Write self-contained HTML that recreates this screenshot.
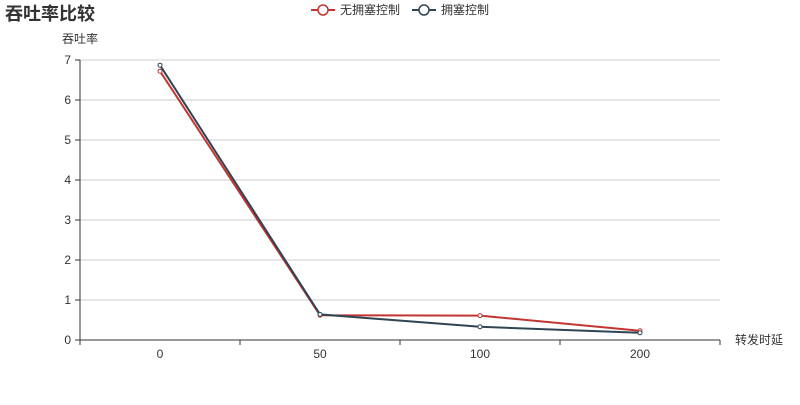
<!DOCTYPE html>
<html><head><meta charset="utf-8"><style>
body{margin:0;background:#fff;font-family:"Liberation Sans","Noto Sans CJK SC",sans-serif}
svg text{font-family:"Liberation Sans","Noto Sans CJK SC",sans-serif}
</style></head><body>
<svg id="c" width="800" height="400">
<text x="5" y="20" font-size="18" font-weight="bold" fill="#333">吞吐率比较</text>
<g>
<line x1="311" y1="10" x2="335" y2="10" stroke="#c23531" stroke-width="2"/>
<circle cx="323" cy="10" r="5" fill="#fff" stroke="#c23531" stroke-width="1.5"/>
<text x="340" y="14" font-size="12" fill="#333">无拥塞控制</text></g>
<g>
<line x1="412" y1="10" x2="436" y2="10" stroke="#2f4554" stroke-width="2"/>
<circle cx="424" cy="10" r="5" fill="#fff" stroke="#2f4554" stroke-width="1.5"/>
<text x="441" y="14" font-size="12" fill="#333">拥塞控制</text></g>
<text x="62" y="43" font-size="12" fill="#333">吞吐率</text>
<text x="735" y="344" font-size="12" fill="#333">转发时延</text>
<g id="grid"></g><g id="series"></g>
</svg>
<script>
const categories=["0","50","100","200"];
const yTicks=[0,1,2,3,4,5,6,7];
const seriesNoCC=[6.72,0.62,0.61,0.23];
const seriesCC=[6.87,0.64,0.33,0.18];
const NS="http://www.w3.org/2000/svg";
const x0=80,x1=720,y0=340,y1=60,yMax=7;
const band=(x1-x0)/categories.length;
const xs=i=>x0+band*(i+0.5);
const ys=v=>y0-(v/yMax)*(y0-y1);
function mk(t,a,p){const e=document.createElementNS(NS,t);for(const k in a)e.setAttribute(k,a[k]);p.appendChild(e);return e;}
const g=document.getElementById('grid');
yTicks.forEach(v=>{
 if(v>0){const l=mk('line',{x1:x0,x2:x1,y1:ys(v),y2:ys(v),stroke:'#ccc'},g);
 
 }
 mk('line',{x1:x0-5,x2:x0,y1:ys(v),y2:ys(v),stroke:'#333'},g);
 const t=mk('text',{x:x0-9,y:ys(v)+4,'text-anchor':'end','font-size':12,fill:'#333'},g);t.textContent=v;
 
 
});
mk('line',{x1:x0,x2:x0,y1:y1,y2:y0,stroke:'#333'},g);
mk('line',{x1:x0,x2:x1,y1:y0,y2:y0,stroke:'#333'},g);
for(let i=0;i<=categories.length;i++)mk('line',{x1:x0+band*i,x2:x0+band*i,y1:y0,y2:y0+5,stroke:'#333'},g);
categories.forEach((c,i)=>{const t=mk('text',{x:xs(i),y:y0+18,'text-anchor':'middle','font-size':12,fill:'#333'},g);t.textContent=c;
 
 });
const s=document.getElementById('series');
[[seriesNoCC,'#c23531','no-congestion-control'],[seriesCC,'#2f4554','congestion-control']].forEach(([d,col,n])=>{
 const p=mk('polyline',{points:d.map((v,i)=>xs(i)+','+ys(v)).join(' '),fill:'none',stroke:col,'stroke-width':2},s);
 
 
 d.forEach((v,i)=>{const c=mk('circle',{cx:xs(i),cy:ys(v),r:2,fill:'#fff',stroke:col,'stroke-width':1},s);
 
 });
});
</script>
</body></html>
